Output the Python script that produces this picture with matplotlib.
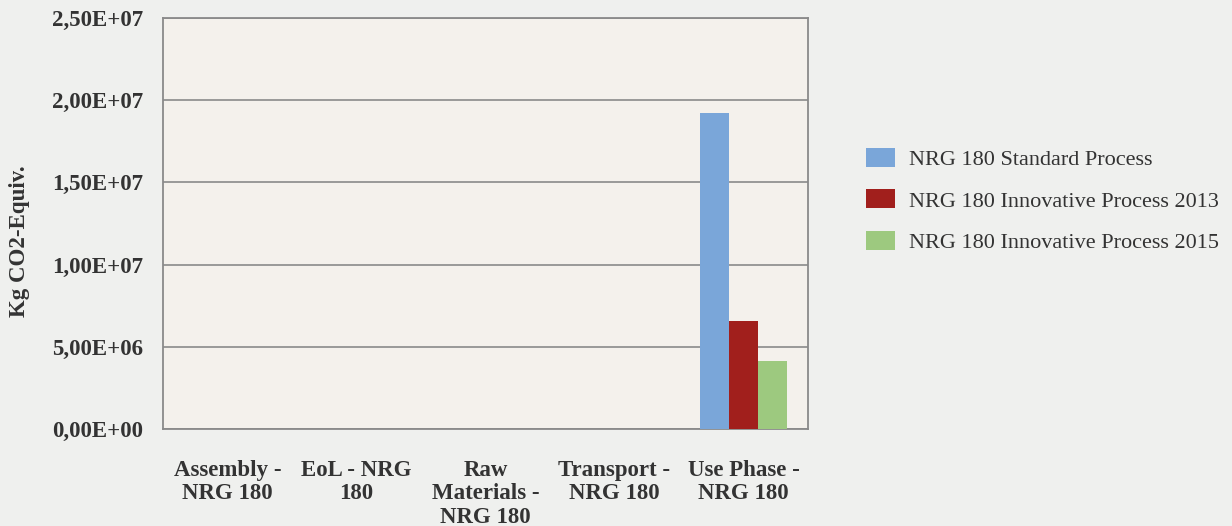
import matplotlib.pyplot as plt
import numpy as np

# data
categories = ["Assembly -\nNRG 180", "EoL - NRG\n180", "Raw\nMaterials -\nNRG 180",
              "Transport -\nNRG 180", "Use Phase -\nNRG 180"]
series_names = ["NRG 180 Standard Process",
                "NRG 180 Innovative Process 2013",
                "NRG 180 Innovative Process 2015"]
standard = [0, 0, 0, 0, 1.925e7]
innov_2013 = [0, 0, 0, 0, 6.55e6]
innov_2015 = [0, 0, 0, 0, 4.15e6]
yticks = [0, 5e6, 1e7, 1.5e7, 2e7, 2.5e7]
ytick_labels = ["0,00E+00", "5,00E+06", "1,00E+07", "1,50E+07", "2,00E+07", "2,50E+07"]

colors = ["#7aa6d9", "#a11f1c", "#9dc97f"]
text_color = "#333333"
fs = 16.5

plt.rcParams["font.family"] = ["Liberation Serif", "DejaVu Serif"]

fig = plt.figure(figsize=(12.32, 5.26), dpi=100, facecolor="#eff0ee")
ax = fig.add_axes([0.1323, 0.1844, 0.5235, 0.7814])
ax.set_facecolor("#f4f1ec")

x = np.arange(len(categories))
w = 0.225
for i, (vals, name) in enumerate(zip([standard, innov_2013, innov_2015], series_names)):
    ax.bar(x + (i - 1) * w, vals, w, color=colors[i], label=name, zorder=3)

ax.set_xlim(-0.5, len(categories) - 0.5)
ax.set_ylim(0, 2.5e7)
ax.set_yticks(yticks)
ax.set_yticklabels(ytick_labels, fontsize=fs, fontweight="bold", color=text_color)
ax.set_xticks(x)
ax.set_xticklabels(categories, fontsize=fs, fontweight="bold", color=text_color,
                   linespacing=1.17)
ax.tick_params(axis="both", length=0)
ax.tick_params(axis="y", pad=14)
ax.tick_params(axis="x", pad=22)
ax.yaxis.grid(True, color="#8a8a8a", linewidth=1.2, zorder=1)
ax.set_axisbelow(True)
for s in ax.spines.values():
    s.set_color("#8a8a8a")
    s.set_linewidth(1.3)

ax.set_ylabel("Kg CO2-Equiv.", fontsize=fs, fontweight="bold", color=text_color)
ax.yaxis.set_label_coords(-0.206, 0.457)

leg = fig.legend(loc="center left", bbox_to_anchor=(0.687, 0.619), frameon=False,
                 fontsize=16, handlelength=1.3, handleheight=0.95,
                 labelspacing=0.88, handletextpad=0.6)
for t in leg.get_texts():
    t.set_color(text_color)

fig.savefig("out.png", dpi=100, facecolor=fig.get_facecolor())
